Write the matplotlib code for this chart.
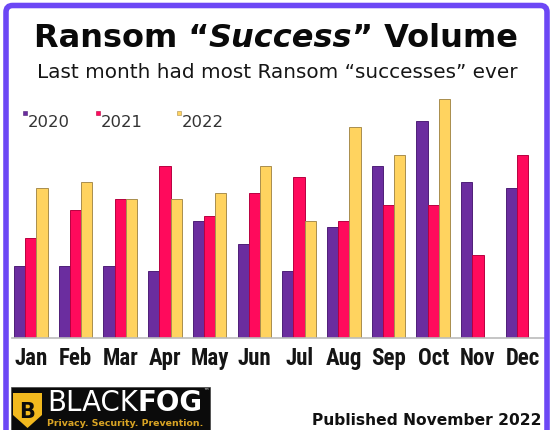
import matplotlib
matplotlib.use('Agg')
import matplotlib.pyplot as plt
from matplotlib import font_manager
import numpy as np
from matplotlib.patches import FancyBboxPatch, Rectangle, Polygon

# ---------------- data ----------------
months = ['Jan', 'Feb', 'Mar', 'Apr', 'May', 'Jun', 'Jul', 'Aug', 'Sep', 'Oct', 'Nov', 'Dec']
years = ['2020', '2021', '2022']
v2020 = [13, 13, 13, 12, 21, 17, 12, 20, 31, 39, 28, 27]
v2021 = [18, 23, 25, 31, 22, 26, 29, 21, 24, 24, 15, 33]
v2022 = [27, 28, 25, 25, 26, 31, 21, 38, 33, 43, np.nan, np.nan]

title_parts = ['Ransom \u201c', 'Success', '\u201d Volume']
subtitle = 'Last month had most Ransom \u201csuccesses\u201d ever'
published = 'Published November 2022'

# ---------------- fonts ----------------
plt.rcParams['font.family'] = ['DejaVu Sans', 'Liberation Sans']
installed = {f.name for f in font_manager.fontManager.ttflist}
month_family = ['Liberation Sans']
month_size = 14
for cand, size in [('Roboto Condensed', 16.5), ('Archivo Narrow', 16.5), ('PT Sans Narrow', 17.5)]:
    if cand in installed:
        month_family = [cand, 'DejaVu Sans']
        month_size = size
        break

colors = ['#6B2D9F', '#FF0A5C', '#FFD35F']
edges = ['#4E1F78', '#B80040', '#A98E4E']
frame_col = '#6C47F5'

W, H = 552, 431
fig = plt.figure(figsize=(W / 100, H / 100), dpi=100)
fig.patch.set_facecolor('white')
fig.canvas.draw()
renderer = fig.canvas.get_renderer()


def fx(x):
    return x / W


def fy(y):
    return 1 - y / H


def width_of(t):
    return t.get_window_extent(renderer).width


def fit(t, target):
    t.set_fontsize(t.get_fontsize() * target / width_of(t))


# ---------------- axes / bars ----------------
ax = fig.add_axes([fx(12), fy(339), (545 - 12) / W, (339 - 95) / H])
x = np.arange(len(months))
w = 0.25
series = [v2020, v2021, v2022]
for i, vals in enumerate(series):
    ax.bar(x + (i - 1) * w, vals, width=w, color=colors[i], edgecolor=edges[i], linewidth=0.7)

ax.set_xlim(-0.42, 11.5)
ax.set_ylim(0, 43.9)
for s in ['left', 'right', 'top']:
    ax.spines[s].set_visible(False)
ax.spines['bottom'].set_color('#BBBBBB')
ax.spines['bottom'].set_linewidth(1.2)
ax.set_yticks([])
ax.set_xticks(x)
ax.set_xticklabels(months, fontweight='bold', color='#151515',
                   fontsize=month_size, family=month_family)
ax.tick_params(axis='x', length=0, pad=6)
ax.set_facecolor('none')

# ---------------- title ----------------
styles = ['normal', 'italic', 'normal']
texts = []
for part, st in zip(title_parts, styles):
    t = fig.text(0, fy(47), part, fontsize=21, fontweight='bold', fontstyle=st,
                 color='#0A0A0A', va='baseline', ha='left')
    texts.append(t)
widths = [width_of(t) for t in texts]
scale = 485 / sum(widths)
for t in texts:
    t.set_fontsize(21 * scale)
widths = [width_of(t) for t in texts]
cur = 276 - sum(widths) / 2
for t, wd in zip(texts, widths):
    t.set_x(fx(cur))
    cur += wd

st_t = fig.text(fx(277), fy(78.5), subtitle, fontsize=12.8, color='#151515',
                ha='center', va='baseline')
fit(st_t, 478)

# ---------------- legend ----------------
leg_x = [28, 101, 182]
for lx, yr, c, e in zip(leg_x, years, colors, edges):
    fig.patches.append(Rectangle((fx(lx - 5), fy(116)), 4 / W, 4 / H,
                                 transform=fig.transFigure, facecolor=c,
                                 edgecolor=e, linewidth=0.4))
    lt = fig.text(fx(lx), fy(127), yr, fontsize=10.5, color='#333333',
                  ha='left', va='baseline')
    fit(lt, 42)

# ---------------- logo ----------------
fig.patches.append(Rectangle((fx(11), fy(440)), (210 - 11) / W, (440 - 388) / H,
                             transform=fig.transFigure, facecolor='#0B0B0B',
                             edgecolor='#444444', linewidth=0.5, zorder=1))
shield = [(fx(13), fy(394)), (fx(42), fy(394)), (fx(42), fy(416)),
          (fx(27.5), fy(429)), (fx(13), fy(416))]
fig.patches.append(Polygon(shield, closed=True, transform=fig.transFigure,
                           facecolor='#F2B91E', edgecolor='none', zorder=2))
fig.text(fx(27.5), fy(412), 'B', fontsize=15, fontweight='bold', color='#0B0B0B',
         ha='center', va='center', zorder=3)
t1 = fig.text(fx(47), fy(411.5), 'BLACK', fontsize=15, color='white',
              ha='left', va='baseline', zorder=3)
t2 = fig.text(fx(47), fy(411.5), 'FOG', fontsize=15, fontweight='bold',
              color='white', ha='left', va='baseline', zorder=3)
tot = width_of(t1) + width_of(t2)
for t in (t1, t2):
    t.set_fontsize(15 * 156 / tot)
t2.set_x(fx(47 + width_of(t1)))
fig.text(fx(206), fy(392), '\u2122', fontsize=4, color='white', ha='center',
         va='center', zorder=3)
tg = fig.text(fx(47), fy(426.5), 'Privacy. Security. Prevention.', fontsize=7.6,
              fontweight='bold', color='#D9A424', ha='left', va='baseline', zorder=3)
fit(tg, 156)

# ---------------- published ----------------
pb = fig.text(fx(541), fy(425), published, fontsize=11.2, fontweight='bold',
              color='#111111', ha='right', va='baseline')
fit(pb, 229)

# ---------------- frame ----------------
frame = FancyBboxPatch((fx(6), fy(460)), (547 - 6) / W, (460 - 6.5) / H,
                       boxstyle='round,pad=0,rounding_size=0.012',
                       mutation_aspect=W / H,
                       transform=fig.transFigure, facecolor='none',
                       edgecolor=frame_col, linewidth=4.0, zorder=10)
fig.patches.append(frame)

fig.savefig('out.png', dpi=100)
